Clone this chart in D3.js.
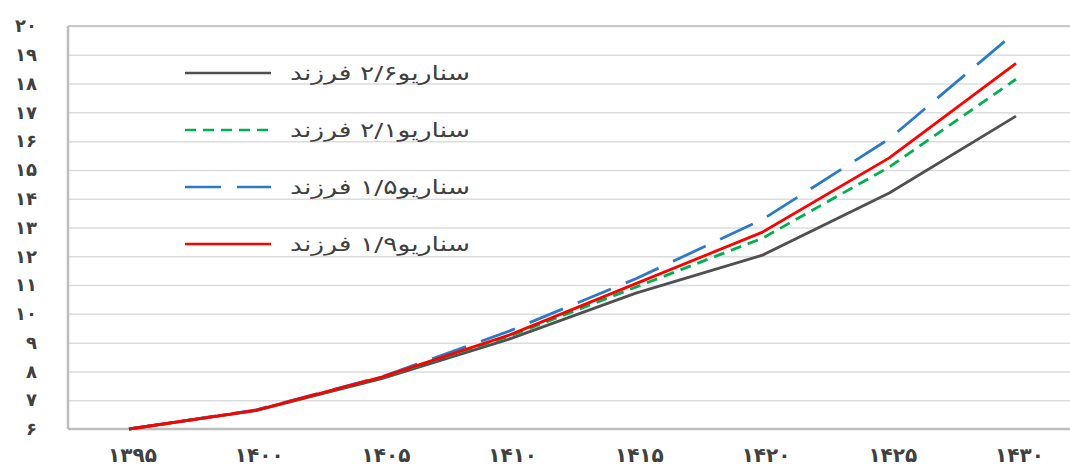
<!DOCTYPE html>
<html>
<head>
<meta charset="utf-8">
<script src="https://cdn.jsdelivr.net/npm/d3@7"></script>
<style>
html,body{margin:0;padding:0;background:#fff;}
svg{display:block;font-family:"DejaVu Sans",sans-serif;}
</style>
</head>
<body>
<svg id="chart" width="1070" height="466"></svg>
<script>
// ---- data ----
const years = [1395, 1400, 1405, 1410, 1415, 1420, 1425, 1430];
const xTickLabels = ["۱۳۹۵","۱۴۰۰","۱۴۰۵","۱۴۱۰","۱۴۱۵","۱۴۲۰","۱۴۲۵","۱۴۳۰"];
const yTicks = [6,7,8,9,10,11,12,13,14,15,16,17,18,19,20];
const yTickLabels = ["۶","۷","۸","۹","۱۰","۱۱","۱۲","۱۳","۱۴","۱۵","۱۶","۱۷","۱۸","۱۹","۲۰"];

const seriesNames = ["سناریو۲/۶ فرزند","سناریو۲/۱ فرزند","سناریو۱/۵ فرزند","سناریو۱/۹ فرزند"];
const s26 = [6.0, 6.64, 7.76, 9.12, 10.72, 12.04, 14.2, 16.87];
const s21 = [6.0, 6.65, 7.80, 9.22, 10.93, 12.63, 15.1, 18.15];
const s15 = [6.0, 6.66, 7.82, 9.40, 11.22, 13.28, 16.08, 19.8];
const s19 = [6.0, 6.65, 7.81, 9.26, 11.05, 12.84, 15.42, 18.7];
const seriesValues = [s26, s21, s15, s19];
const seriesColors = ["#505050", "#00b050", "#2a7ac8", "#ff0000"];
const seriesDash = [null, "11,7", "36,16", null];

// ---- layout ----
const svg = d3.select("#chart");
const mLeft = 68, mTop = 26, mBottom = 429, mRight = 1070;
const x = d3.scaleLinear().domain([1395, 1430]).range([129, 1016]);
const y = d3.scaleLinear().domain([6, 20]).range([mBottom, mTop]);

// gridlines
svg.append("g")
  .attr("transform", `translate(${mLeft},0)`)
  .call(d3.axisLeft(y).tickValues(yTicks.slice(1)).tickSize(-(mRight - mLeft)).tickFormat(""))
  .call(g => g.select(".domain").remove())
  .call(g => g.selectAll("line").attr("stroke", "#dcdcdc").attr("stroke-width", 1.5));

// top border line slightly darker
svg.append("line").attr("x1", mLeft).attr("x2", mRight).attr("y1", y(20)).attr("y2", y(20))
  .attr("stroke", "#c8c8c8").attr("stroke-width", 2);

// axes lines
svg.append("line").attr("x1", mLeft).attr("x2", mLeft).attr("y1", mTop).attr("y2", mBottom)
  .attr("stroke", "#bdbdbd").attr("stroke-width", 2.5);
svg.append("line").attr("x1", mLeft).attr("x2", mRight).attr("y1", mBottom).attr("y2", mBottom)
  .attr("stroke", "#bdbdbd").attr("stroke-width", 2.5);

// y labels
const yAxis = svg.append("g")
  .attr("transform", `translate(37,0)`)
  .call(d3.axisLeft(y).tickValues(yTicks).tickSize(0).tickPadding(0)
    .tickFormat((d, i) => yTickLabels[i]));
yAxis.select(".domain").remove();
yAxis.selectAll("text").attr("fill", "#404040").attr("font-size", 18).attr("font-weight", "bold")
  .attr("font-family", "DejaVu Sans").attr("letter-spacing", 1);

// x labels
const xAxis = svg.append("g")
  .attr("transform", `translate(3,${mBottom})`)
  .call(d3.axisBottom(x).tickValues(years).tickSize(0).tickPadding(19)
    .tickFormat((d, i) => xTickLabels[i]));
xAxis.select(".domain").remove();
xAxis.selectAll("text").attr("fill", "#404040").attr("font-size", 20).attr("font-weight", "bold")
  .attr("font-family", "DejaVu Sans").attr("letter-spacing", 2);

// lines
const line = d3.line().x((d, i) => x(years[i])).y(d => y(d));
seriesValues.forEach((vals, k) => {
  svg.append("path")
    .datum(vals)
    .attr("d", line)
    .attr("fill", "none")
    .attr("stroke", seriesColors[k])
    .attr("stroke-width", 2.8)
    .attr("stroke-dasharray", seriesDash[k])
    .attr("stroke-linejoin", "round");
});

// legend
const legY = [73, 130, 187, 244];
seriesNames.forEach((name, k) => {
  svg.append("line")
    .attr("x1", 185).attr("x2", 271)
    .attr("y1", legY[k]).attr("y2", legY[k])
    .attr("stroke", seriesColors[k]).attr("stroke-width", 2.6)
    .attr("stroke-dasharray", seriesDash[k]);
  svg.append("text")
    .attr("x", 470).attr("y", legY[k] + 7)
    .attr("direction", "rtl")
    .attr("text-anchor", "start")
    .attr("fill", "#404040")
    .attr("font-size", 20)
    .attr("textLength", 180)
    .attr("lengthAdjust", "spacingAndGlyphs")
    .text(name);
});
</script>
</body>
</html>
